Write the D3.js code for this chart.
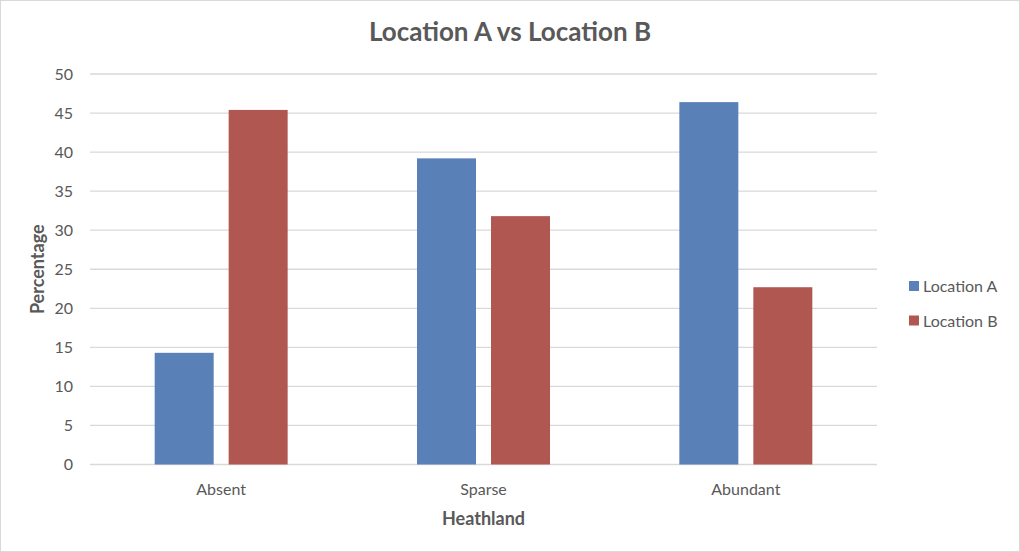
<!DOCTYPE html>
<html><head><meta charset="utf-8">
<script src="https://cdn.jsdelivr.net/npm/d3@7"></script>
<style>body{margin:0;background:#fff}svg{display:block}</style>
</head><body>
<script>
const categories = ["Absent", "Sparse", "Abundant"];
const seriesNames = ["Location A", "Location B"];
const locationA = [14.3, 39.2, 46.4];
const locationB = [45.4, 31.8, 22.7];
const yTicks = [0, 5, 10, 15, 20, 25, 30, 35, 40, 45, 50];
const colors = ["#5A80B8", "#B15752"];

const W = 1020, H = 552;
const m = {left: 90, right: 1020 - 877, top: 74, bottom: 552 - 464.5};
const font = "Lato, 'Open Sans', sans-serif";
const svg = d3.select("body").append("svg").attr("width", W).attr("height", H);
svg.append("rect").attr("x", 0.5).attr("y", 0.5).attr("width", W - 1).attr("height", H - 1)
  .attr("fill", "#fff").attr("stroke", "#d9d9d9");

const x = d3.scaleBand().domain(categories).range([m.left, W - m.right]);
const y = d3.scaleLinear().domain([0, 50]).range([H - m.bottom, m.top]);
const sub = d3.scaleBand().domain(seriesNames).range([0, x.bandwidth()]).paddingInner(0.2027).paddingOuter(0.874);

// gridlines
svg.append("g").selectAll("line").data(yTicks).join("line")
  .attr("x1", m.left).attr("x2", W - m.right)
  .attr("y1", d => y(d)).attr("y2", d => y(d))
  .attr("stroke", "#d9d9d9").attr("stroke-width", 1.3);

// y axis labels
const yAxis = d3.axisLeft(y).tickValues(yTicks).tickSize(0).tickPadding(17);
const gy = svg.append("g").attr("transform", `translate(${m.left},0)`).call(yAxis);
gy.select(".domain").remove();
gy.selectAll("text").attr("font-family", font).attr("font-size", 16).attr("fill", "#595959");

// x axis labels
const xAxis = d3.axisBottom(x).tickSize(0).tickPadding(19);
const gx = svg.append("g").attr("transform", `translate(0,${H - m.bottom})`).call(xAxis);
gx.select(".domain").remove();
gx.selectAll("text").attr("font-family", font).attr("font-size", 16).attr("fill", "#595959");

// bars
const data = [locationA, locationB];
seriesNames.forEach((s, i) => {
  svg.append("g").selectAll("rect").data(categories).join("rect")
    .attr("x", (c) => x(c) + sub(s))
    .attr("width", sub.bandwidth())
    .attr("y", (c, j) => y(data[i][j]))
    .attr("height", (c, j) => y(0) - y(data[i][j]))
    .attr("fill", colors[i]);
});

// title
svg.append("text").attr("x", 510).attr("y", 41).attr("text-anchor", "middle")
  .attr("font-family", font).attr("font-weight", "bold").attr("font-size", 26)
  .attr("fill", "#595959").text("Location A vs Location B");

// axis titles
svg.append("text").attr("x", (m.left + W - m.right) / 2).attr("y", 525).attr("text-anchor", "middle")
  .attr("font-family", font).attr("font-weight", "bold").attr("font-size", 18)
  .attr("fill", "#595959").text("Heathland");
svg.append("text").attr("transform", `translate(44,${(y(0) + y(50)) / 2}) rotate(-90)`)
  .attr("text-anchor", "middle")
  .attr("font-family", font).attr("font-weight", "bold").attr("font-size", 18)
  .attr("fill", "#595959").text("Percentage");

// legend
const lg = svg.append("g");
seriesNames.forEach((s, i) => {
  const yy = 281 + i * 34.5;
  lg.append("rect").attr("x", 909).attr("y", yy).attr("width", 10).attr("height", 10).attr("fill", colors[i]);
  lg.append("text").attr("x", 923).attr("y", yy + 11).attr("font-family", font).attr("font-size", 16)
    .attr("fill", "#595959").text(s);
});
</script>
</body></html>
